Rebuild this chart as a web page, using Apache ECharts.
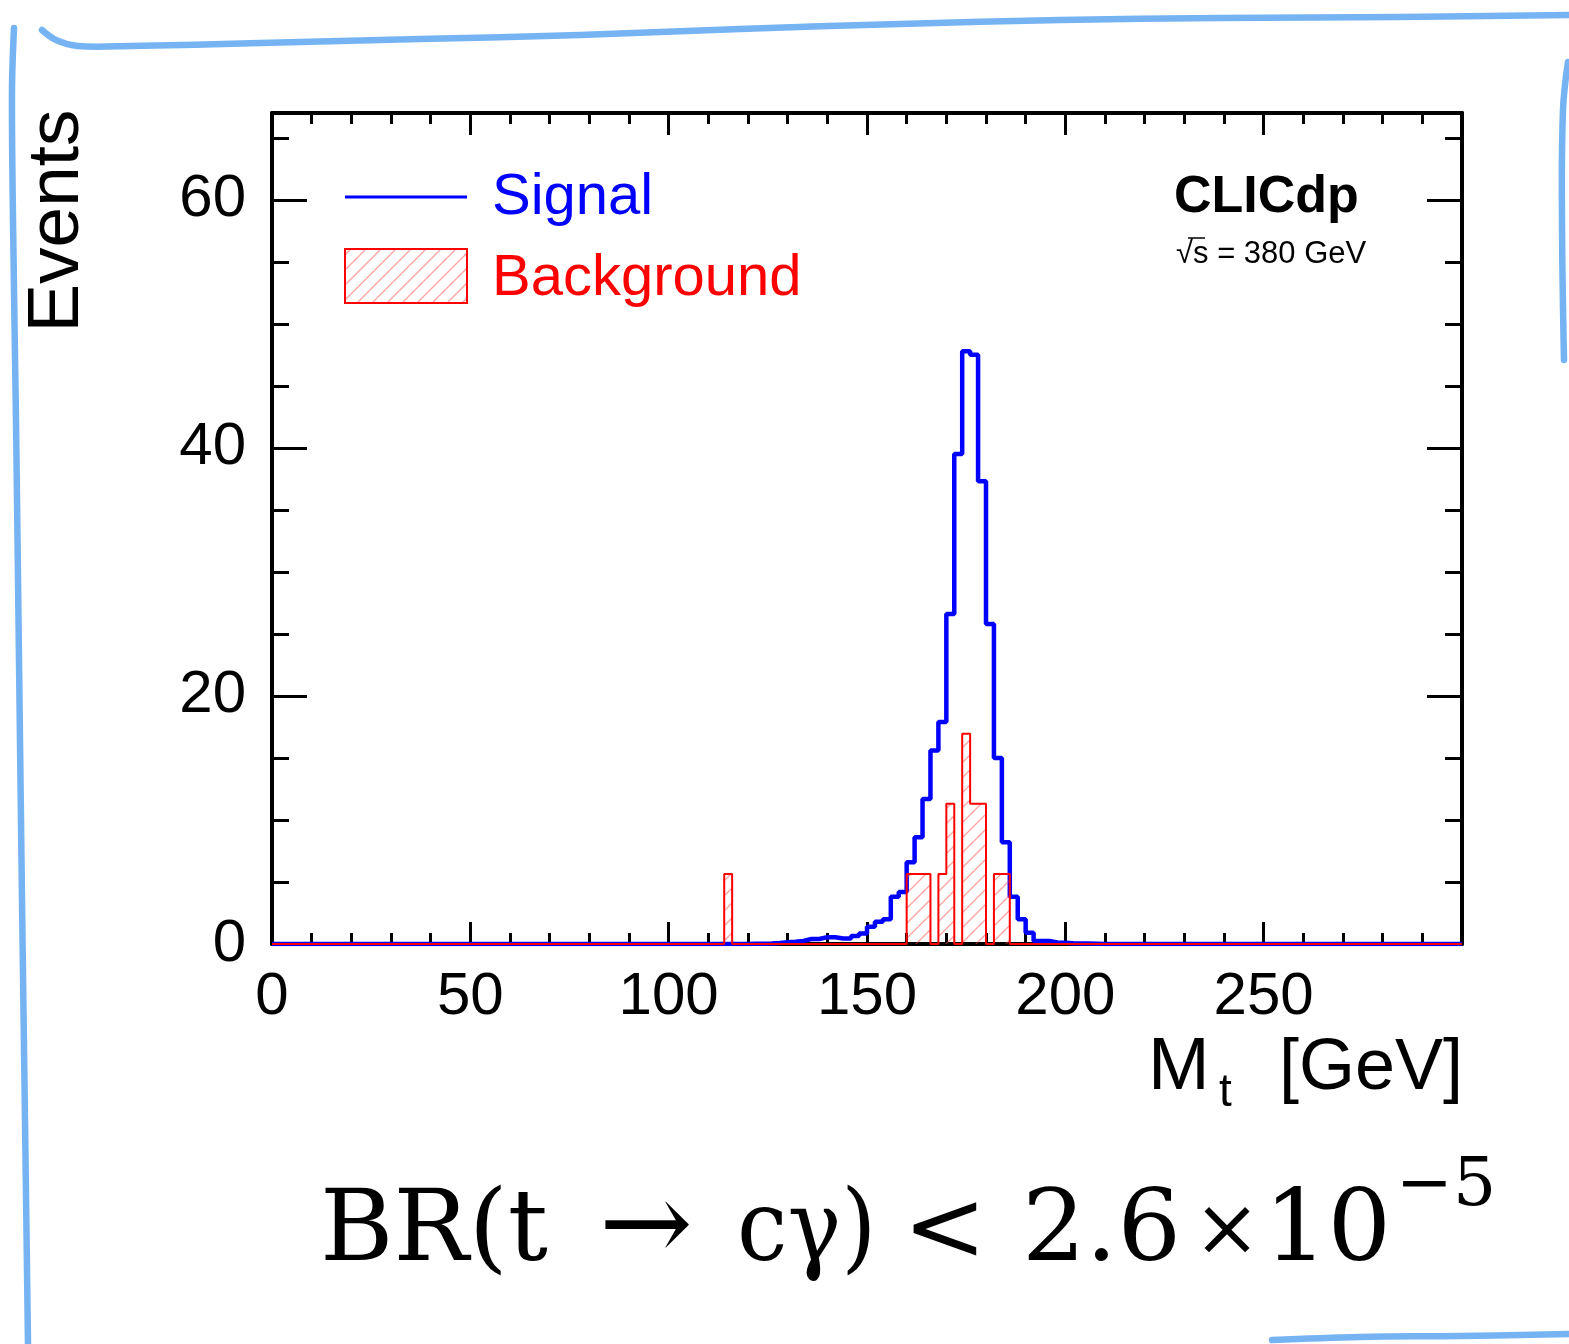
<!DOCTYPE html>
<html>
<head>
<meta charset="utf-8">
<script src="https://cdn.jsdelivr.net/npm/echarts@6/dist/echarts.min.js"></script>
<style>
  html, body { margin: 0; padding: 0; background: #ffffff; }
  #chart { width: 1569px; height: 1344px; }
</style>
</head>
<body>
<div id="chart"></div>
<script>
// Reconstructed top-quark mass, 2 GeV bins
const BIN_WIDTH = 2;
const X_RANGE = [0, 300];
const Y_RANGE = [0, 67];
const xTickLabels = [0, 50, 100, 150, 200, 250];
const yTickLabels = [0, 20, 40, 60];

// Signal: events per bin, starting at the bin whose lower edge is signalFirstEdge
const signalFirstEdge = 120;
const signalEvents = [
  0.03, 0.03, 0.05, 0.08, 0.15, 0.18, 0.25, 0.4, 0.4, 0.55,
  0.55, 0.45, 0.45, 0.65, 0.85, 1.4, 1.8, 2.0, 3.8, 4.2,
  6.6, 8.6, 11.7, 15.6, 17.9, 26.6, 39.5, 47.8, 47.5, 37.3,
  25.8, 15.0, 8.2, 3.8, 2.0, 0.9, 0.25, 0.25, 0.12, 0.1,
  0.06, 0.05, 0.04, 0.03
];

// Background: lower bin edges of the filled bins and their weighted events
const backgroundEdges = [114, 160, 162, 164, 168, 170, 174, 176, 178, 182, 184];
const backgroundEvents = [5.65, 5.65, 5.65, 5.65, 5.65, 11.3, 16.95, 11.3, 11.3, 5.65, 5.65];

const nBins = (X_RANGE[1] - X_RANGE[0]) / BIN_WIDTH;

function fillBins(edges, values) {
  const counts = new Array(nBins).fill(0);
  edges.forEach((e, i) => { counts[Math.round((e - X_RANGE[0]) / BIN_WIDTH)] = values[i]; });
  return counts;
}
function stepPoints(counts) {
  const pts = counts.map((c, i) => [X_RANGE[0] + i * BIN_WIDTH, c]);
  pts.push([X_RANGE[1], counts[counts.length - 1]]);
  return pts;
}

const signalCounts = fillBins(signalEvents.map((_, i) => signalFirstEdge + i * BIN_WIDTH), signalEvents);
const backgroundCounts = fillBins(backgroundEdges, backgroundEvents);

// Diagonal hatching used for the background histogram
function hatchPattern(size, color, width) {
  const c = document.createElement('canvas');
  c.width = size; c.height = size;
  const g = c.getContext('2d');
  g.strokeStyle = color;
  g.lineWidth = width;
  g.beginPath();
  g.moveTo(0, size); g.lineTo(size, 0);
  g.moveTo(-size / 2, size / 2); g.lineTo(size / 2, -size / 2);
  g.moveTo(size / 2, size * 1.5); g.lineTo(size * 1.5, size / 2);
  g.stroke();
  return c;
}
const hatch = { image: hatchPattern(15, 'rgba(255,70,70,0.5)', 1.3), repeat: 'repeat' };

const SANS = '"Liberation Sans", Arial, Helvetica, sans-serif';
const SERIF = '"DejaVu Serif", "Liberation Serif", serif';
const frameLine = { show: true, onZero: false, lineStyle: { color: '#000', width: 4 } };
const noLine = { show: false, onZero: false };
const tickStyle = { color: '#000', width: 3 };

function axisX(position, interval, tickLen, withLine, withLabels) {
  return {
    type: 'value', position, min: X_RANGE[0], max: X_RANGE[1], interval,
    axisLine: withLine ? frameLine : noLine,
    axisTick: { show: true, inside: true, length: tickLen, lineStyle: tickStyle },
    axisLabel: withLabels ? {
      show: true, margin: 23, color: '#000', fontSize: 60, fontFamily: SANS,
      showMaxLabel: false,
      formatter: v => (xTickLabels.includes(v) ? String(v) : '')
    } : { show: false },
    splitLine: { show: false }
  };
}
function axisY(position, interval, tickLen, withLine, withLabels) {
  return {
    type: 'value', position, min: Y_RANGE[0], max: Y_RANGE[1], interval,
    axisLine: withLine ? frameLine : noLine,
    axisTick: { show: true, inside: true, length: tickLen, lineStyle: tickStyle },
    axisLabel: withLabels ? {
      show: true, margin: 26, color: '#000', fontSize: 60, fontFamily: SANS,
      padding: [14, 0, 0, 0],
      formatter: v => (yTickLabels.includes(v) ? String(v) : '')
    } : { show: false },
    splitLine: { show: false }
  };
}

const sketch = { stroke: '#6aadf1', lineWidth: 6.5, lineCap: 'round', lineJoin: 'round', fill: null, opacity: 0.92 };

const chart = echarts.init(document.getElementById('chart'), null, { renderer: 'canvas' });
chart.setOption({
  animation: false,
  backgroundColor: '#ffffff',
  grid: { left: 272, top: 113, width: 1190, height: 831, containLabel: false },
  xAxis: [
    axisX('bottom', 50, 22, true, true),
    axisX('bottom', 10, 11, false, false),
    axisX('top', 50, 22, true, false),
    axisX('top', 10, 11, false, false)
  ],
  yAxis: [
    axisY('left', 20, 35, true, true),
    axisY('left', 5, 17, false, false),
    axisY('right', 20, 35, true, false),
    axisY('right', 5, 17, false, false)
  ],
  series: [
    {
      name: 'Signal', type: 'line', step: 'end', xAxisIndex: 0, yAxisIndex: 0,
      data: stepPoints(signalCounts), symbol: 'none', showSymbol: false,
      lineStyle: { color: '#0000ff', width: 4.5 }, z: 3
    },
    {
      name: 'Background', type: 'line', step: 'end', xAxisIndex: 0, yAxisIndex: 0,
      data: stepPoints(backgroundCounts), symbol: 'none', showSymbol: false,
      lineStyle: { color: '#ff0000', width: 2 },
      areaStyle: { color: hatch, opacity: 1 }, z: 4
    }
  ],
  graphic: [
    // hand-drawn frame
    { type: 'polyline', silent: true, shape: { smooth: 0.35, points: [[42, 30], [56, 40], [78, 46], [130, 46], [260, 43], [420, 39], [580, 35], [740, 29], [900, 24], [1060, 20], [1220, 18], [1400, 17], [1569, 15]] }, style: sketch },
    { type: 'polyline', silent: true, shape: { smooth: 0.35, points: [[14, 28], [12, 90], [13, 220], [16, 420], [19, 660], [22, 900], [25, 1120], [28, 1344]] }, style: sketch },
    { type: 'polyline', silent: true, shape: { smooth: 0.4, points: [[1568, 62], [1563, 110], [1562, 220], [1564, 360]] }, style: sketch },
    { type: 'polyline', silent: true, shape: { smooth: 0.4, points: [[1272, 1340], [1360, 1337], [1460, 1336], [1569, 1334]] }, style: sketch },

    // axis titles
    { type: 'text', x: 58, y: 221, rotation: Math.PI / 2, style: { text: 'Events', font: '73px ' + SANS, fill: '#000', align: 'center', verticalAlign: 'middle' } },
    { type: 'text', x: 1148, y: 1069, style: { text: 'M', font: '74px ' + SANS, fill: '#000', align: 'left', verticalAlign: 'middle' } },
    { type: 'text', x: 1219, y: 1093, style: { text: 't', font: '46px ' + SANS, fill: '#000', align: 'left', verticalAlign: 'middle' } },
    { type: 'text', x: 1463, y: 1069, style: { text: '[GeV]', font: '72px ' + SANS, fill: '#000', align: 'right', verticalAlign: 'middle' } },

    // legend
    { type: 'line', shape: { x1: 345, y1: 197, x2: 467, y2: 197 }, style: { stroke: '#0000ff', lineWidth: 3 } },
    { type: 'text', x: 492, y: 198, style: { text: 'Signal', font: '58px ' + SANS, fill: '#0000ff', align: 'left', verticalAlign: 'middle' } },
    { type: 'rect', shape: { x: 345, y: 249, width: 122, height: 54 }, style: { fill: hatch, stroke: '#ff0000', lineWidth: 2 } },
    { type: 'text', x: 492, y: 279, style: { text: 'Background', font: '58px ' + SANS, fill: '#ff0000', align: 'left', verticalAlign: 'middle' } },

    // experiment label
    { type: 'text', x: 1174, y: 198, style: { text: 'CLICdp', font: 'bold 52px ' + SANS, fill: '#000', align: 'left', verticalAlign: 'middle' } },
    { type: 'text', x: 1176, y: 254, style: { text: '\u221As = 380 GeV', font: '31px ' + SANS, fill: '#000', align: 'left', verticalAlign: 'middle' } },
    { type: 'line', shape: { x1: 1188, y1: 238, x2: 1205, y2: 238 }, style: { stroke: '#000', lineWidth: 1.5 } },

    // branching-ratio limit
    { type: 'text', x: 320, y: 1234, style: { text: 'BR(t', font: '100px ' + SERIF, fill: '#000', align: 'left', verticalAlign: 'middle' } },
    { type: 'text', x: 646, y: 1232, style: { text: '\u2192', font: '112px ' + SERIF, fill: '#000', align: 'center', verticalAlign: 'middle' } },
    { type: 'text', x: 737, y: 1234, scaleX: 0.9, style: { text: 'c\u03B3)', font: '100px ' + SERIF, fill: '#000', align: 'left', verticalAlign: 'middle' } },
    { type: 'text', x: 945, y: 1234, style: { text: '<', font: '100px ' + SERIF, fill: '#000', align: 'center', verticalAlign: 'middle' } },
    { type: 'text', x: 1022, y: 1234, style: { text: '2.6', font: '100px ' + SERIF, fill: '#000', align: 'left', verticalAlign: 'middle' } },
    { type: 'text', x: 1227, y: 1234, style: { text: '\u00D7', font: '80px ' + SERIF, fill: '#000', align: 'center', verticalAlign: 'middle' } },
    { type: 'text', x: 1264, y: 1234, style: { text: '10', font: '100px ' + SERIF, fill: '#000', align: 'left', verticalAlign: 'middle' } },
    { type: 'text', x: 1396, y: 1187, style: { text: '\u22125', font: '68px ' + SERIF, fill: '#000', align: 'left', verticalAlign: 'middle' } }
  ]
});
</script>
</body>
</html>
